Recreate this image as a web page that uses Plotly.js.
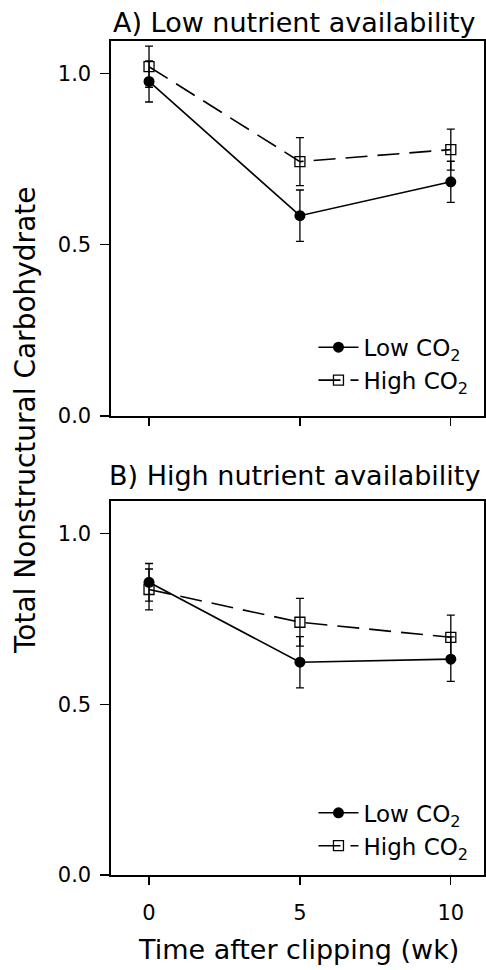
<!DOCTYPE html>
<html><head><meta charset="utf-8">
<script src="https://cdn.plot.ly/plotly-3.0.1.min.js"></script>
<style>body{margin:0;background:#fff}#c{width:486px;height:970px}</style>
</head><body><div id="c"></div>
<script>
const weeks = [0, 5, 10];
const lowA = [0.977, 0.585, 0.684];
const lowAerr = [0.06, 0.075, 0.06];
const highA = [1.02, 0.743, 0.778];
const highAerr = [0.06, 0.07, 0.06];
const lowB = [0.857, 0.623, 0.632];
const lowBerr = [0.055, 0.075, 0.065];
const highB = [0.836, 0.74, 0.696];
const highBerr = [0.06, 0.07, 0.065];
const seriesNames = ['Low CO<sub>2</sub>', 'High CO<sub>2</sub>'];
const panelTitles = ['A) Low nutrient availability', 'B) High nutrient availability'];

function lowTrace(y, e, xa, ya, lg) {
  return {x: weeks, y: y, xaxis: xa, yaxis: ya, legend: lg, name: seriesNames[0], showlegend: true,
    mode: 'lines+markers', line: {color: '#000', width: 1.6},
    marker: {symbol: 'circle', size: 11, color: '#000'},
    error_y: {type: 'data', array: e, color: '#000', thickness: 1.3, width: 4}};
}
function highTrace(y, e, xa, ya, lg) {
  return {x: weeks, y: y, xaxis: xa, yaxis: ya, legend: lg, name: seriesNames[1], showlegend: true,
    mode: 'lines+markers', line: {color: '#000', width: 1.6, dash: '22px,10px'},
    marker: {symbol: 'square-open', size: 10, color: '#000', line: {width: 1.3}},
    error_y: {type: 'data', array: e, color: '#000', thickness: 1.3, width: 4}};
}
const data = [
  highTrace(highA, highAerr, 'x', 'y', 'legend'),
  lowTrace(lowA, lowAerr, 'x', 'y', 'legend'),
  highTrace(highB, highBerr, 'x2', 'y2', 'legend2'),
  lowTrace(lowB, lowBerr, 'x2', 'y2', 'legend2')
];
const font = {family: 'DejaVu Sans, Liberation Sans, Arial, sans-serif', color: '#000'};
function xax(anchor, showLabels) {
  return {anchor: anchor, domain: [0.2284, 0.9959], range: [-1.26, 11.1], tickvals: weeks,
    ticks: 'outside', ticklen: 8, tickwidth: 1.3, tickcolor: '#000', showticklabels: showLabels,
    ticklabelstandoff: 10,
    showline: true, linecolor: '#000', linewidth: 1.6, mirror: true, showgrid: false, zeroline: false,
    tickfont: {size: 21}};
}
function yax(anchor, dom) {
  return {anchor: anchor, domain: dom, range: [0, 1.095], tickvals: [0, 0.5, 1.0], ticktext: ['0.0', '0.5', '1.0'],
    ticks: 'outside', ticklen: 9, tickwidth: 1.3, tickcolor: '#000', ticklabelstandoff: 5,
    showline: true, linecolor: '#000', linewidth: 1.6, mirror: true, showgrid: false, zeroline: false,
    tickfont: {size: 21}};
}
const legendBase = {bgcolor: 'rgba(0,0,0,0)', font: {size: 23}, traceorder: 'reversed',
  xanchor: 'left', yanchor: 'middle', itemwidth: 40, tracegroupgap: 0};
const layout = {
  width: 486, height: 970, margin: {l: 0, r: 0, t: 0, b: 0},
  paper_bgcolor: '#fff', plot_bgcolor: '#fff', font: font,
  xaxis: xax('y', false), yaxis: yax('x', [0.5711, 0.9577]),
  xaxis2: xax('y2', true), yaxis2: yax('x2', [0.0979, 0.4835]),
  legend: Object.assign({}, legendBase, {x: 0.645, y: 0.625}),
  legend2: Object.assign({}, legendBase, {x: 0.645, y: 0.145}),
  annotations: [
    {text: panelTitles[0], xref: 'paper', yref: 'paper', x: 294/486, y: 1 - 22/970, showarrow: false, font: {size: 27}, xanchor: 'center', yanchor: 'middle'},
    {text: panelTitles[1], xref: 'paper', yref: 'paper', x: 294/486, y: 1 - 475/970, showarrow: false, font: {size: 27}, xanchor: 'center', yanchor: 'middle'},
    {text: 'Total Nonstructural Carbohydrate', xref: 'paper', yref: 'paper', x: 25/486, y: 1 - 420/970, textangle: -90, showarrow: false, font: {size: 28}, xanchor: 'center', yanchor: 'middle'},
    {text: 'Time after clipping (wk)', xref: 'paper', yref: 'paper', x: 298/486, y: 1 - 949/970, showarrow: false, font: {size: 27}, xanchor: 'center', yanchor: 'middle'}
  ]
};
Plotly.newPlot('c', data, layout, {staticPlot: true});
</script></body></html>
